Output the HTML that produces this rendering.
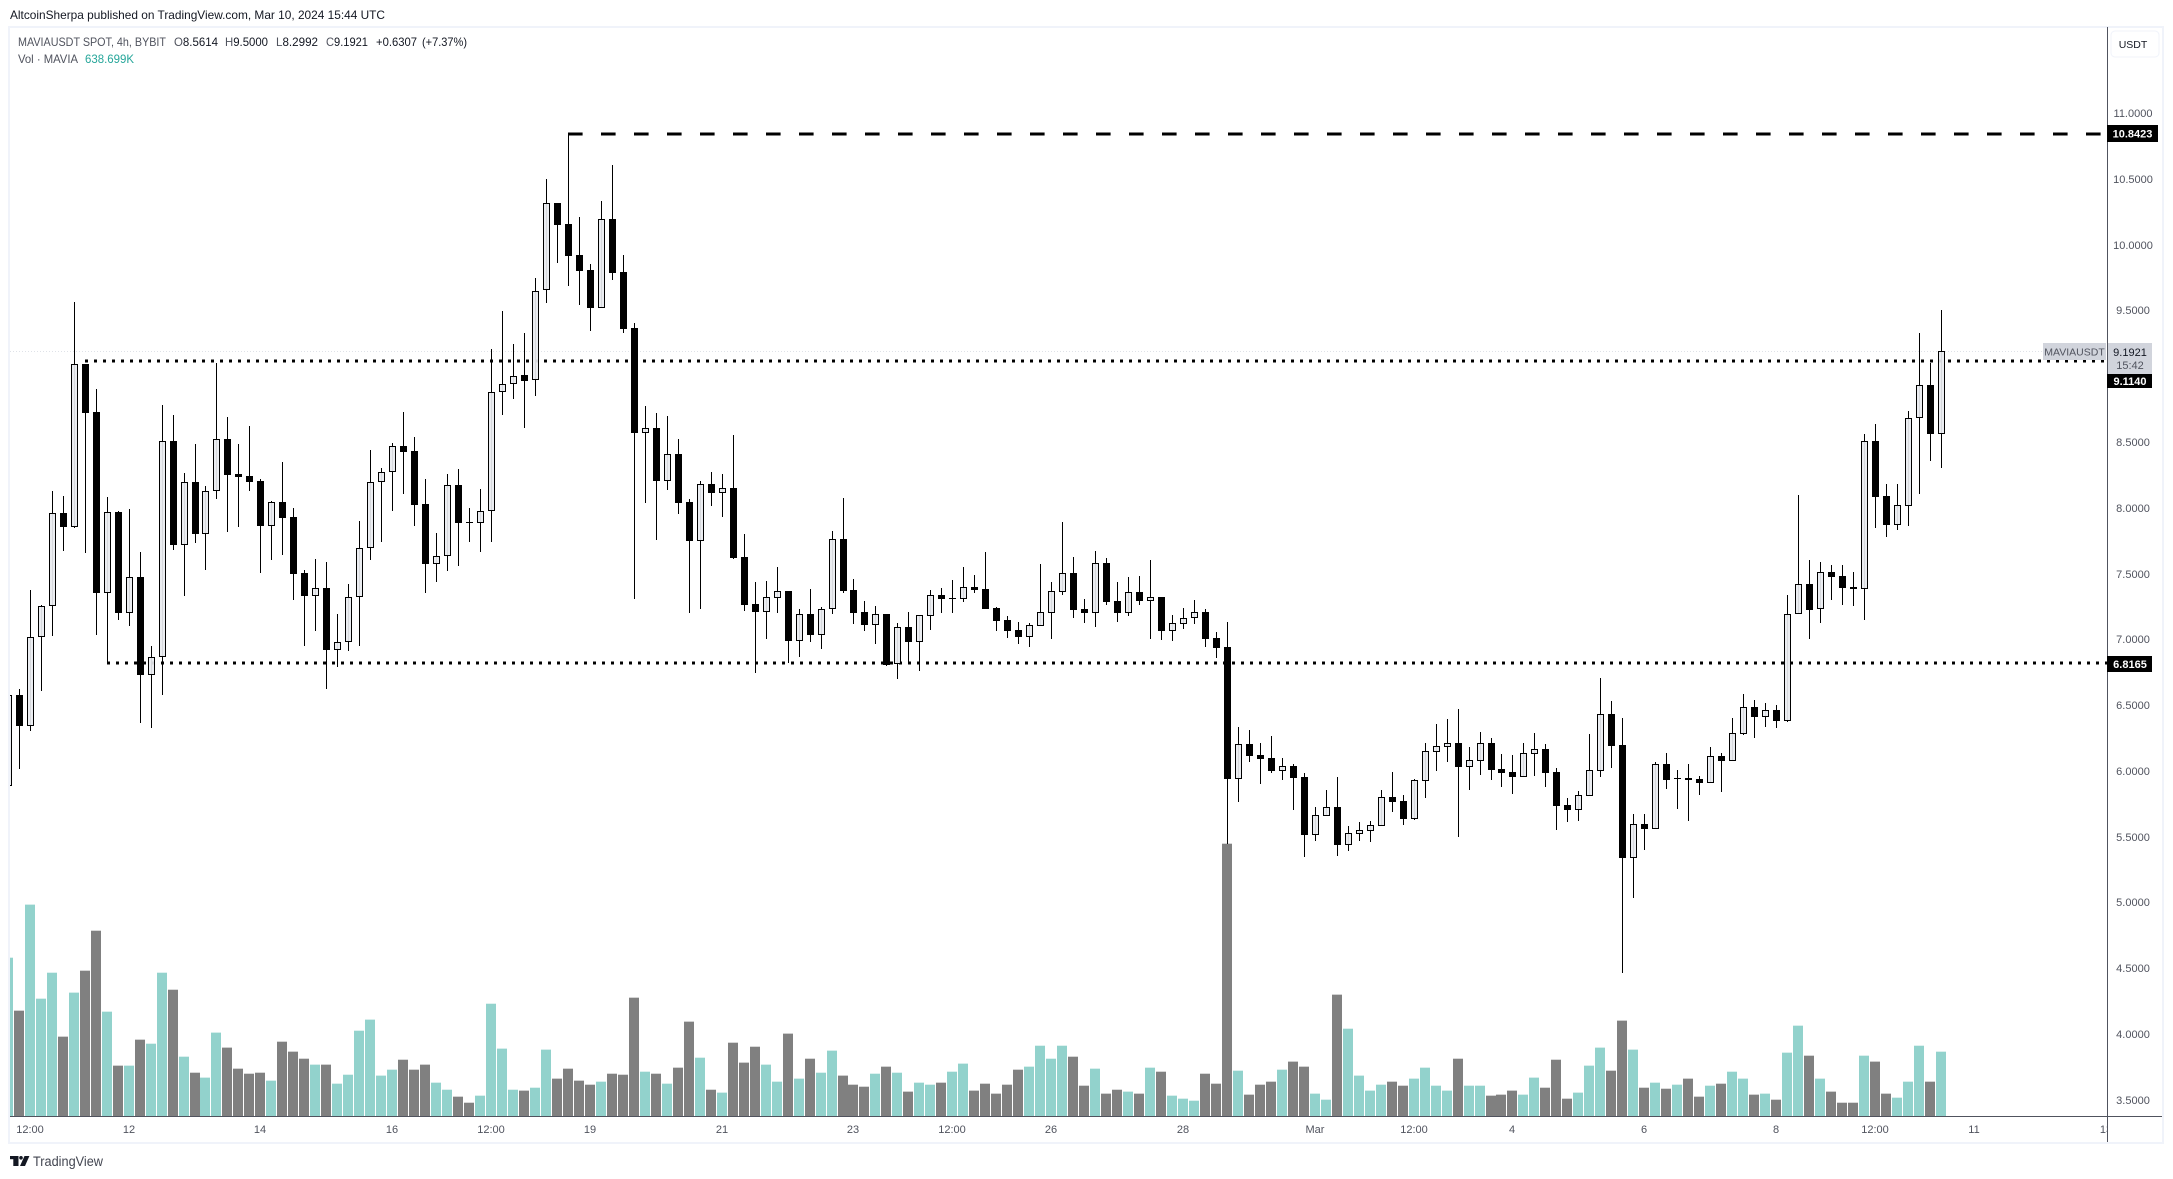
<!DOCTYPE html>
<html>
<head>
<meta charset="utf-8">
<title>MAVIAUSDT chart</title>
<style>
html,body{margin:0;padding:0;background:#fff;width:2173px;height:1179px;overflow:hidden}
svg{display:block}
text{font-family:"Liberation Sans",sans-serif}
.tick{font-size:11px;fill:#50535e}
</style>
</head>
<body>
<svg id="chart" xmlns="http://www.w3.org/2000/svg" width="2173" height="1179" viewBox="0 0 2173 1179">
  <defs>
    <clipPath id="pane-clip"><rect x="10" y="27" width="2097" height="1089"></rect></clipPath>
    <clipPath id="time-clip"><rect x="10" y="1117" width="2097" height="25"></rect></clipPath>
  </defs>
  <rect x="0" y="0" width="2173" height="1179" fill="#ffffff"></rect>
  <text x="10" y="19" font-size="12" fill="#131722" textLength="375" lengthAdjust="spacingAndGlyphs">AltcoinSherpa published on TradingView.com, Mar 10, 2024 15:44 UTC</text>
  <rect x="9" y="27" width="2154" height="1116" fill="none" stroke="#f0f3fa" stroke-width="2"></rect>

  <g id="volumes" clip-path="url(#pane-clip)"></g>
  <g id="levels" clip-path="url(#pane-clip)"></g>
  <g id="candles" clip-path="url(#pane-clip)"></g>

  <g>
    <text x="18" y="46" font-size="12" fill="#50535e" textLength="148" lengthAdjust="spacingAndGlyphs">MAVIAUSDT SPOT, 4h, BYBIT</text>
    <text x="174" y="46" font-size="12" fill="#131722" textLength="44" lengthAdjust="spacingAndGlyphs"><tspan fill="#50535e">O</tspan>8.5614</text>
    <text x="225" y="46" font-size="12" fill="#131722" textLength="43" lengthAdjust="spacingAndGlyphs"><tspan fill="#50535e">H</tspan>9.5000</text>
    <text x="276" y="46" font-size="12" fill="#131722" textLength="42" lengthAdjust="spacingAndGlyphs"><tspan fill="#50535e">L</tspan>8.2992</text>
    <text x="326" y="46" font-size="12" fill="#131722" textLength="42" lengthAdjust="spacingAndGlyphs"><tspan fill="#50535e">C</tspan>9.1921</text>
    <text x="376" y="46" font-size="12" fill="#131722" textLength="41" lengthAdjust="spacingAndGlyphs">+0.6307</text>
    <text x="422" y="46" font-size="12" fill="#131722" textLength="45" lengthAdjust="spacingAndGlyphs">(+7.37%)</text>
    <text x="18" y="63" font-size="12" fill="#50535e" textLength="60" lengthAdjust="spacingAndGlyphs">Vol · MAVIA</text>
    <text x="85" y="63" font-size="12" fill="#26a69a" textLength="49" lengthAdjust="spacingAndGlyphs">638.699K</text>
  </g>

  <rect x="10" y="1116" width="2152" height="1" fill="#50535e"></rect>
  <rect x="2107" y="27" width="1" height="1115" fill="#50535e"></rect>
  <g id="price-ticks"></g>
  <g id="time-ticks" clip-path="url(#time-clip)"></g>

  <g>
    <rect x="2111" y="31" width="48" height="26" rx="4" fill="#fff" stroke="#f0f3fa" stroke-width="1"></rect>
    <text x="2133" y="48" font-size="10.5" fill="#131722" text-anchor="middle">USDT</text>
  </g>

  <g>
    <rect x="2043" y="343" width="63" height="17" fill="#d1d4dc"></rect>
    <text x="2074.5" y="355.5" font-size="10.5" fill="#50535e" text-anchor="middle">MAVIAUSDT</text>
    <rect x="2108" y="343" width="44" height="31" fill="#d1d4dc"></rect>
    <text x="2130" y="356" font-size="11" fill="#131722" text-anchor="middle">9.1921</text>
    <text x="2130" y="369" font-size="11" fill="#50535e" text-anchor="middle">15:42</text>
    <rect x="2107" y="374" width="45" height="14" fill="#000"></rect>
    <text x="2130" y="385" font-size="11" font-weight="bold" fill="#fff" text-anchor="middle">9.1140</text>
    <rect x="2107" y="125" width="51" height="17" fill="#000"></rect>
    <text x="2132.5" y="137.5" font-size="11" font-weight="bold" fill="#fff" text-anchor="middle">10.8423</text>
    <rect x="2107" y="656" width="45" height="16" fill="#000"></rect>
    <text x="2130" y="668" font-size="11" font-weight="bold" fill="#fff" text-anchor="middle">6.8165</text>
  </g>

  <g>
    <g fill="#131722">
      <rect x="10" y="1156" width="8.5" height="3.2"></rect>
      <rect x="13.3" y="1156" width="5.2" height="10"></rect>
      <circle cx="21" cy="1157.8" r="1.8"></circle>
      <polygon points="24.5,1156 29.4,1156 25,1166 20,1166"></polygon>
    </g>
    <text x="33" y="1166" font-size="13.5" fill="#434651" textLength="70" lengthAdjust="spacingAndGlyphs">TradingView</text>
  </g>
</svg>

<script>
const highs = [6.615,6.622,7.375,7.261,8.127,8.089,9.564,9.092,8.902,8.082,
7.975,7.990,7.664,6.949,8.781,8.705,8.264,8.484,8.165,9.100,
8.690,8.484,8.621,8.219,8.051,8.348,7.998,7.527,7.610,7.588,
7.192,7.420,7.899,8.439,8.302,8.492,8.728,8.538,8.219,7.808,
8.257,8.294,7.998,8.142,9.206,9.495,9.244,9.328,9.746,10.498,
10.316,10.842,10.210,9.852,10.331,10.605,9.921,9.404,8.773,8.720,
8.697,8.522,8.066,8.203,8.272,8.257,8.553,7.800,7.436,7.443,
7.550,7.367,7.230,7.382,7.246,7.823,8.074,7.458,7.291,7.253,
7.192,7.124,7.208,7.185,7.375,7.390,7.451,7.550,7.489,7.664,
7.246,7.177,7.132,7.124,7.573,7.436,7.892,7.625,7.306,7.671,
7.618,7.436,7.474,7.481,7.603,7.322,7.185,7.238,7.299,7.230,
7.056,7.132,6.333,6.311,6.212,6.265,6.098,6.052,5.984,5.726,
5.855,5.954,5.581,5.612,5.619,5.855,5.992,5.817,5.938,6.212,
6.356,6.394,6.470,6.182,6.296,6.250,6.128,6.121,6.212,6.288,
6.204,6.022,5.794,5.847,6.280,6.706,6.531,6.402,5.672,5.672,
6.068,6.136,6.007,6.052,5.961,6.182,6.136,6.402,6.584,6.539,
6.516,6.501,7.337,8.097,7.603,7.588,7.565,7.565,7.512,8.560,
8.636,8.181,8.181,8.735,9.328,9.100,9.500];

const lows = [5.855,6.014,6.303,6.607,7.025,7.671,7.846,7.656,7.033,6.820,
7.147,7.101,6.364,6.326,6.577,7.679,7.329,7.732,7.527,8.066,
7.816,7.854,8.127,7.504,7.603,7.641,7.299,6.949,7.063,6.622,
6.790,6.911,6.949,7.603,7.740,7.975,8.104,7.861,7.352,7.436,
7.519,7.557,7.740,7.664,7.740,8.705,8.826,8.606,8.849,9.556,
9.860,9.685,9.541,9.343,9.518,9.731,9.328,7.306,8.036,7.755,
8.135,7.952,7.200,7.230,8.013,7.930,7.610,7.215,6.744,7.003,
7.200,6.820,6.866,6.980,6.926,7.192,7.352,7.116,7.063,6.964,
6.797,6.698,6.820,6.759,7.071,7.200,7.200,7.284,7.352,7.230,
7.063,7.010,6.964,6.941,7.101,7.003,7.337,7.162,7.124,7.094,
7.261,7.132,7.177,7.261,7.003,6.995,6.987,7.078,7.116,6.941,
6.858,5.444,5.764,6.068,5.901,5.984,5.931,5.703,5.346,5.467,
5.657,5.353,5.391,5.467,5.460,5.581,5.688,5.589,5.627,5.794,
5.999,6.068,5.498,5.855,5.969,5.931,5.877,5.824,5.954,5.961,
5.877,5.551,5.612,5.619,5.809,5.954,6.022,4.464,5.034,5.399,
5.558,5.862,5.710,5.619,5.817,5.908,5.840,6.075,6.273,6.250,
6.333,6.326,6.372,7.192,7.003,7.124,7.299,7.261,7.253,7.147,
7.846,7.778,7.831,7.861,8.104,8.355,8.2992];

const opens = [5.885,6.577,6.341,7.018,7.253,7.960,7.854,9.092,8.728,7.352,
7.968,7.200,7.474,6.729,6.866,8.507,7.717,8.196,7.800,8.127,
8.522,8.257,8.241,8.203,7.861,8.043,7.930,7.504,7.329,7.390,
6.919,6.980,7.322,7.694,8.196,8.272,8.469,8.431,8.028,7.573,
7.633,8.173,7.893,7.884,7.975,8.880,8.941,9.009,8.971,9.655,
10.316,10.156,9.921,9.807,9.518,10.195,9.792,9.366,8.568,8.606,
8.203,8.408,8.043,7.747,8.181,8.112,8.150,7.625,7.268,7.208,
7.314,7.367,6.987,7.192,7.033,7.230,7.762,7.375,7.208,7.109,
7.192,6.812,7.094,6.980,7.177,7.337,7.314,7.306,7.398,7.382,
7.238,7.147,7.071,7.018,7.101,7.200,7.360,7.504,7.230,7.200,
7.580,7.291,7.200,7.360,7.291,7.322,7.063,7.116,7.162,7.208,
7.010,6.941,5.938,6.204,6.121,6.098,5.999,6.037,5.954,5.513,
5.657,5.726,5.437,5.520,5.543,5.581,5.802,5.771,5.634,5.923,
6.144,6.182,6.212,6.030,6.075,6.212,6.014,5.992,5.954,6.128,
6.166,5.992,5.741,5.703,5.809,5.999,6.432,6.197,5.338,5.597,
5.558,6.052,5.946,5.946,5.938,5.908,6.113,6.075,6.280,6.485,
6.409,6.463,6.379,7.192,7.420,7.230,7.512,7.481,7.398,7.382,
8.507,8.089,7.869,8.013,8.682,8.933,8.5614];

const closes = [6.577,6.341,7.018,7.253,7.960,7.854,9.092,8.720,7.352,7.968,
7.200,7.474,6.729,6.866,8.507,7.717,8.196,7.800,8.127,8.522,
8.249,8.234,8.196,7.861,8.043,7.922,7.496,7.329,7.390,6.919,
6.980,7.322,7.694,8.196,8.272,8.469,8.424,8.021,7.573,7.633,
8.173,7.884,7.892,7.975,8.880,8.941,9.001,8.963,9.647,10.316,
10.149,9.913,9.799,9.518,10.195,9.784,9.358,8.568,8.606,8.203,
8.408,8.036,7.747,8.181,8.112,8.150,7.618,7.261,7.208,7.322,
7.367,6.987,7.192,7.033,7.230,7.762,7.367,7.200,7.109,7.192,
6.805,7.094,6.980,7.185,7.337,7.306,7.314,7.398,7.375,7.230,
7.139,7.063,7.018,7.109,7.208,7.367,7.504,7.223,7.200,7.580,
7.284,7.200,7.360,7.291,7.322,7.063,7.124,7.162,7.208,7.003,
6.934,5.938,6.204,6.113,6.090,5.999,6.037,5.946,5.513,5.665,
5.726,5.437,5.528,5.551,5.589,5.802,5.764,5.634,5.931,6.151,
6.189,6.212,6.030,6.083,6.212,6.007,5.984,5.954,6.136,6.166,
5.984,5.733,5.703,5.817,6.007,6.432,6.189,5.338,5.597,5.558,
6.052,5.931,5.946,5.931,5.908,6.113,6.075,6.288,6.485,6.409,
6.463,6.379,7.192,7.420,7.223,7.512,7.474,7.390,7.382,8.507,
8.081,7.869,8.021,8.682,8.933,8.560,9.1921];

const volumes = [1572,1046,2099,1165,1423,788,1225,1443,1840,1036,
500,500,758,718,1423,1254,589,430,381,828,
679,470,420,430,351,738,639,569,510,510,
321,410,847,957,401,460,559,460,510,331,
261,192,132,202,1115,669,261,252,281,659,
371,470,351,311,341,420,410,1175,440,420,
321,480,937,579,261,232,728,530,688,510,
341,818,371,569,430,649,401,311,291,420,
490,430,242,331,311,331,440,520,252,321,
222,311,460,490,698,569,698,589,301,470,
222,261,242,222,480,440,202,172,152,420,
321,2704,450,212,311,341,460,540,490,222,
162,1205,867,401,252,311,341,301,371,480,
301,252,569,301,301,202,212,252,212,381,
281,559,172,232,500,679,450,947,659,281,
331,271,311,371,192,301,321,440,371,212,
222,162,629,897,599,371,242,132,132,599,
540,222,182,341,698,341,638.699];

const priceTicks = ["11.0000","10.5000","10.0000","9.5000","9.0000","8.5000","8.0000","7.5000","7.0000","6.5000","6.0000","5.5000","5.0000","4.5000","4.0000","3.5000"];
const timeTickLabels = ["12:00","12","14","16","12:00","19","21","23","12:00","26","28","Mar","12:00","4","6","8","12:00","11","13"];
const timeTickBars = [2,11,23,35,44,53,65,77,86,95,107,119,128,137,149,161,170,179,191];
const levelPrices = [10.8423,9.1140,6.8165];
const levelStartBars = [51,7,9];
const lastPrice = 9.1921;

const NS = 'http://www.w3.org/2000/svg';
function xAxis(i){ return Math.floor(8.3 + 10.983 * i); }
function yAxis(p){ return Math.round(113 + (11 - p) * 131.58); }
function volAxis(v){ return 1116 - v / 9.93; }
function make(tag, attrs, parent){
  const el = document.createElementNS(NS, tag);
  for (const k in attrs) el.setAttribute(k, attrs[k]);
  parent.appendChild(el);
  return el;
}

const volG = document.getElementById('volumes');
volumes.forEach(function(v, i){
  const top = volAxis(v);
  const bar = make('rect', {x: xAxis(i) - 5, y: top, width: 10, height: 1116 - top, fill: closes[i] >= opens[i] ? '#92d2cc' : '#808080'}, volG);
  
  
});

const levelG = document.getElementById('levels');
const lastLine = make('line', {x1: 10, x2: 2107, y1: yAxis(lastPrice) + 0.5, y2: yAxis(lastPrice) + 0.5, stroke: '#dfe2e8', 'stroke-width': 1, 'stroke-dasharray': '1 2'}, levelG);


levelPrices.forEach(function(p, i){
  const y = yAxis(p);
  const line = make('line', {x1: xAxis(levelStartBars[i]), x2: 2107, y1: y, y2: y, stroke: '#000', 'stroke-width': 3, 'stroke-dasharray': i === 0 ? '14.6 18.4' : '3 6'}, levelG);
  
  
});

const candleG = document.getElementById('candles');
opens.forEach(function(o, i){
  const c = closes[i];
  const x = xAxis(i);
  const up = c >= o;
  const top = yAxis(Math.max(o, c));
  const bot = yAxis(Math.min(o, c));
  const hi = yAxis(highs[i]);
  const lo = yAxis(lows[i]);
  const g = make('g', {}, candleG);
  
  
  make('rect', {x: x, y: hi, width: 1, height: Math.max(lo - hi, 1), fill: '#000'}, g);
  if (bot - top < 3) {
    make('rect', {x: x - 3, y: top, width: 7, height: Math.max(bot - top, 1), fill: '#000'}, g);
  } else if (up) {
    make('rect', {x: x - 2.5, y: top + 0.5, width: 6, height: bot - top - 1, fill: '#e9ebf0', 'fill-opacity': 0.92, stroke: '#000', 'stroke-width': 1}, g);
  } else {
    make('rect', {x: x - 3, y: top, width: 7, height: bot - top, fill: '#000'}, g);
  }
});

const priceG = document.getElementById('price-ticks');
priceTicks.forEach(function(t){
  const label = make('text', {x: 2133, y: yAxis(parseFloat(t)) + 4, class: 'tick', 'text-anchor': 'middle'}, priceG);
  label.textContent = t;
  
  
});

const timeG = document.getElementById('time-ticks');
timeTickLabels.forEach(function(t, i){
  const label = make('text', {x: xAxis(timeTickBars[i]), y: 1133, class: 'tick', 'text-anchor': 'middle'}, timeG);
  label.textContent = t;
  
  
});
</script>
</body>
</html>
